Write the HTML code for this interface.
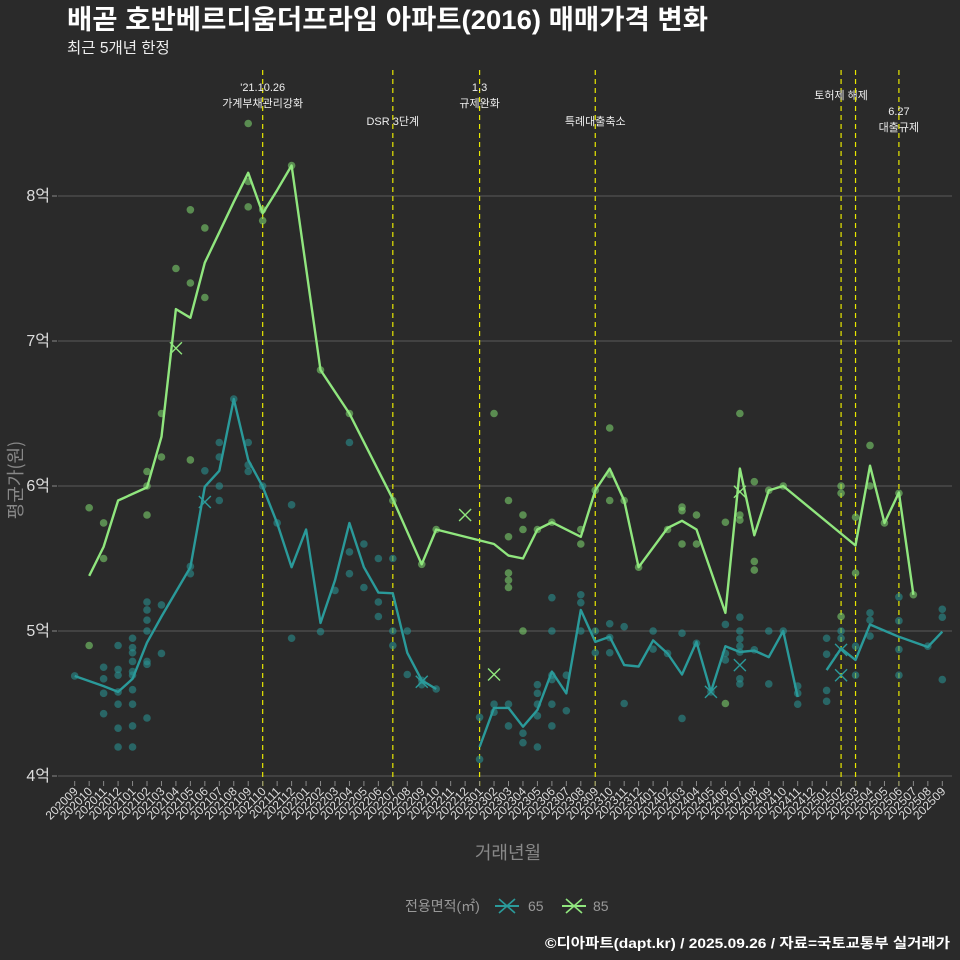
<!DOCTYPE html>
<html><head><meta charset="utf-8"><style>
html,body{margin:0;padding:0;background:#2a2a2a;}
svg{display:block;font-family:"Liberation Sans","Noto Sans CJK KR",sans-serif;}
</style></head><body>
<svg id="chart" width="960" height="960" viewBox="0 0 960 960" xmlns="http://www.w3.org/2000/svg">
<rect width="960" height="960" fill="#2a2a2a"/>
<text x="67" y="29" fill="#fff" font-size="27" font-weight="bold" textLength="641" lengthAdjust="spacingAndGlyphs">배곧 호반베르디움더프라임 아파트(2016) 매매가격 변화</text>
<text x="67" y="53" fill="#eee" font-size="15.5">최근 5개년 한정</text>
<g id="grid"></g><g id="events"></g><g id="marks"></g><g id="axes"></g>
<text transform="translate(22,480) rotate(-90)" text-anchor="middle" fill="#888" font-size="18" font-family="Noto Sans CJK KR, sans-serif">평균가(원)</text>
<text x="508" y="859" text-anchor="middle" fill="#888" font-size="18">거래년월</text>
<g>
<text x="405" y="911" fill="#999" font-size="14">전용면적(㎡)</text>
<g><line x1="499" y1="899" x2="515" y2="913" stroke="#2a9a9a" stroke-width="1.6"/><line x1="515" y1="899" x2="499" y2="913" stroke="#2a9a9a" stroke-width="1.6"/><line x1="495" y1="906" x2="519" y2="906" stroke="#2a9a9a" stroke-width="2"/><text x="528" y="911" fill="#999" font-size="14">65</text></g>
<g><line x1="566" y1="899" x2="582" y2="913" stroke="#90e67e" stroke-width="1.6"/><line x1="582" y1="899" x2="566" y2="913" stroke="#90e67e" stroke-width="1.6"/><line x1="562" y1="906" x2="586" y2="906" stroke="#90e67e" stroke-width="2"/><text x="593" y="911" fill="#999" font-size="14">85</text></g>
</g>
<text x="950" y="948" text-anchor="end" fill="#fff" font-size="14" font-weight="bold" textLength="405" lengthAdjust="spacingAndGlyphs">©디아파트(dapt.kr) / 2025.09.26 / 자료=국토교통부 실거래가</text>
</svg>
<script>
const months=[];for(let y=2020,m=9;months.length<61;){months.push(y+String(m).padStart(2,'0'));m++;if(m>12){m=1;y++;}}
const yTicks=[40000,50000,60000,70000,80000];
const yTickLabels=['4억','5억','6억','7억','8억'];
const tealMonths=[0,2,3,4,5,6,7,8,9,10,11,12,13,14,15,16,17,18,19,20,21,22,23,24,25,28,29,30,31,32,33,34,35,36,37,38,39,40,41,42,43,44,45,46,47,48,49,50,52,53,54,55,57,59,60];
const tealAvg=[46900,46200,45800,46700,49200,51000,52700,54400,59950,61050,66000,61800,59950,57450,54400,57000,50550,53500,57450,54400,52650,52600,48500,46600,46000,42000,44700,44700,43400,44550,47200,45700,51450,49250,49600,47650,47550,49350,48450,47000,49250,45800,48950,48550,48650,48200,50000,45450,47300,48800,48000,50450,49600,48900,49950];
const tealBreaks=[25,50];
const greenMonths=[1,2,3,5,6,7,8,9,10,11,12,13,14,15,17,19,22,24,25,29,30,31,32,33,35,36,37,38,39,41,42,43,45,46,47,48,49,54,55,56,57,58];
const greenAvg=[53800,55800,59000,59900,63400,72200,71600,75400,77500,79600,81600,78800,80400,82100,68000,65000,59100,54600,57000,56000,55200,55000,57000,57500,56500,59700,61200,59000,54400,57100,57600,57000,51250,61200,56600,59700,60000,55900,61400,57450,59550,52500];
const greenBreaks=[];
const tealDotMonths=[0,2,2,2,2,3,3,3,3,3,3,3,4,4,4,4,4,4,4,4,4,4,5,5,5,5,5,5,5,6,6,8,8,9,10,10,10,10,11,12,12,12,13,14,15,15,17,18,19,19,19,20,20,21,21,21,22,22,22,23,23,24,24,25,28,28,29,29,30,30,31,31,32,32,32,32,32,33,33,33,33,33,33,34,34,35,35,35,36,36,37,37,37,38,38,40,40,41,42,42,43,44,45,45,45,46,46,46,46,46,46,46,47,48,48,49,50,50,50,52,52,52,52,53,53,54,54,55,55,55,57,57,57,57,59,60,60,60];
const tealDotVals=[46900,47500,46700,45700,44300,49000,47350,46950,45800,44950,43300,42000,49500,48850,48500,47900,47200,46950,45950,44950,43450,42000,52000,51450,50750,50000,47900,47700,44000,51800,48450,54450,53950,61050,63000,62000,60000,59000,66000,63000,61450,61000,60000,57450,58700,49500,49950,52800,63000,55450,53950,56000,53000,55000,52000,51000,55000,50000,49000,50000,47000,46600,46300,46000,44050,41150,44950,44400,44950,43450,42950,42300,46300,45700,44950,44150,42000,52300,50000,46950,46650,44950,43450,46950,44500,52500,51950,50000,50000,48500,50500,49550,48500,50300,45000,50000,48750,48450,49850,43970,49150,45800,50450,48450,48000,50950,50000,49450,48950,48550,46700,46350,48700,50000,46350,50000,46200,45700,44950,49500,48400,45900,45150,50000,49500,48950,46950,51250,50750,49650,52350,50700,48730,46950,48950,51500,50950,46650];
const greenDotMonths=[1,1,2,2,5,5,5,6,6,7,8,8,8,9,9,12,12,12,13,13,15,17,19,22,24,25,29,30,30,30,30,30,31,31,31,32,33,35,35,36,37,37,37,38,39,41,42,42,42,43,43,45,45,46,46,46,47,47,47,48,49,53,53,53,54,54,55,55,56,57,58];
const greenDotVals=[58500,49000,57450,55000,61000,58000,60000,65000,62000,75000,79050,74000,61800,77800,73000,85000,81000,79250,78300,79050,82100,68000,65000,59000,54600,57000,65000,59000,56500,54000,53500,53000,58000,57000,50000,57000,57500,57000,56000,59700,64000,60800,59000,59000,54400,57000,58550,58300,56000,58000,56000,57500,45000,65000,58000,57650,60300,54800,54200,59700,60000,60000,59500,51000,57850,54000,62800,60000,57450,59500,52500];
const crossMonths=[7,9,24,27,29,44,46,46,53,53];
const crossVals=[69500,58900,46500,58000,47000,45800,59600,47650,48700,46950];
const crossSeries=['85','65','65','85','85','65','85','65','65','65'];
const eventMonths=[13,22,28,36,53,54,57];
const eventLabels=[["'21.10.26","가계부채관리강화"],["DSR 3단계"],["1.3","규제완화"],["특례대출축소"],["토허제 해제"],[],["6.27","대출규제"]];
const eventLabelY=[91,125,91,125,99,0,115];

const NS='http://www.w3.org/2000/svg';
const X0=74.7,DX=14.46,left=58,right=952;
const xs=i=>X0+i*DX;
const ys=v=>776-(v-40000)/10000*145;
function mk(tag,attrs,parent){const e=document.createElementNS(NS,tag);for(const k in attrs)e.setAttribute(k,attrs[k]);parent.appendChild(e);return e;}
const grid=document.getElementById('grid'),axes=document.getElementById('axes'),marks=document.getElementById('marks'),events=document.getElementById('events');
yTicks.forEach((v,i)=>{
  const g=mk('line',{x1:left,x2:right,y1:ys(v),y2:ys(v),stroke:'#5a5a5a','stroke-width':1.1},grid);
  
  
  const tk=mk('line',{x1:52,x2:57,y1:ys(v),y2:ys(v),stroke:'#888'},axes);
  
  
  const t=mk('text',{x:50,y:ys(v)+5,'text-anchor':'end',fill:'#ddd','font-size':16},axes);
  t.textContent=yTickLabels[i];
  
  
});
months.forEach((m,i)=>{
  const tk=mk('line',{x1:xs(i),x2:xs(i),y1:781,y2:786,stroke:'#888'},axes);
  
  
  const t=mk('text',{x:xs(i)+4,y:792,'text-anchor':'end',fill:'#ddd','font-size':12,transform:`rotate(-45 ${xs(i)+4} 792)`},axes);
  t.textContent=m;
  
  
});
eventMonths.forEach((mi,i)=>{
  const l=mk('line',{x1:xs(mi),x2:xs(mi),y1:70,y2:786,stroke:'#e8e800','stroke-width':1.2,'stroke-dasharray':'5,4'},events);
  
  
  eventLabels[i].forEach((s,j)=>{
    const t=mk('text',{x:xs(mi),y:eventLabelY[i]+j*16,'text-anchor':'middle',fill:'#eee','font-size':11},events);
    t.textContent=s;
    
    
  });
});
function dots(ms,vs,color,name){
  ms.forEach((m,i)=>{
    const c=mk('circle',{cx:xs(m),cy:ys(vs[i]),r:3.8,fill:color,'fill-opacity':0.6},marks);
    
    
  });
}
dots(tealDotMonths,tealDotVals,'#2a8f8f','dot-65');
dots(greenDotMonths,greenDotVals,'#7ccf6c','dot-85');
function line(ms,vs,br,color,name){
  let d='',start=true;
  ms.forEach((m,i)=>{d+=(start?'M':'L')+xs(m).toFixed(1)+','+ys(vs[i]).toFixed(1);start=br.includes(m);});
  const p=mk('path',{d:d,fill:'none',stroke:color,'stroke-width':2.4,'stroke-linejoin':'round'},marks);
  
  
}
line(tealMonths,tealAvg,tealBreaks,'#2a9a9a','line-65');
line(greenMonths,greenAvg,greenBreaks,'#90e67e','line-85');
crossMonths.forEach((m,i)=>{
  const x=xs(m),y=ys(crossVals[i]),col=crossSeries[i]==='65'?'#2a9a9a':'#90e67e';
  const g=mk('g',{},marks);
  
  
  mk('line',{x1:x-6,y1:y-6,x2:x+6,y2:y+6,stroke:col,'stroke-width':1.4},g);
  mk('line',{x1:x+6,y1:y-6,x2:x-6,y2:y+6,stroke:col,'stroke-width':1.4},g);
});
</script>
</body></html>
